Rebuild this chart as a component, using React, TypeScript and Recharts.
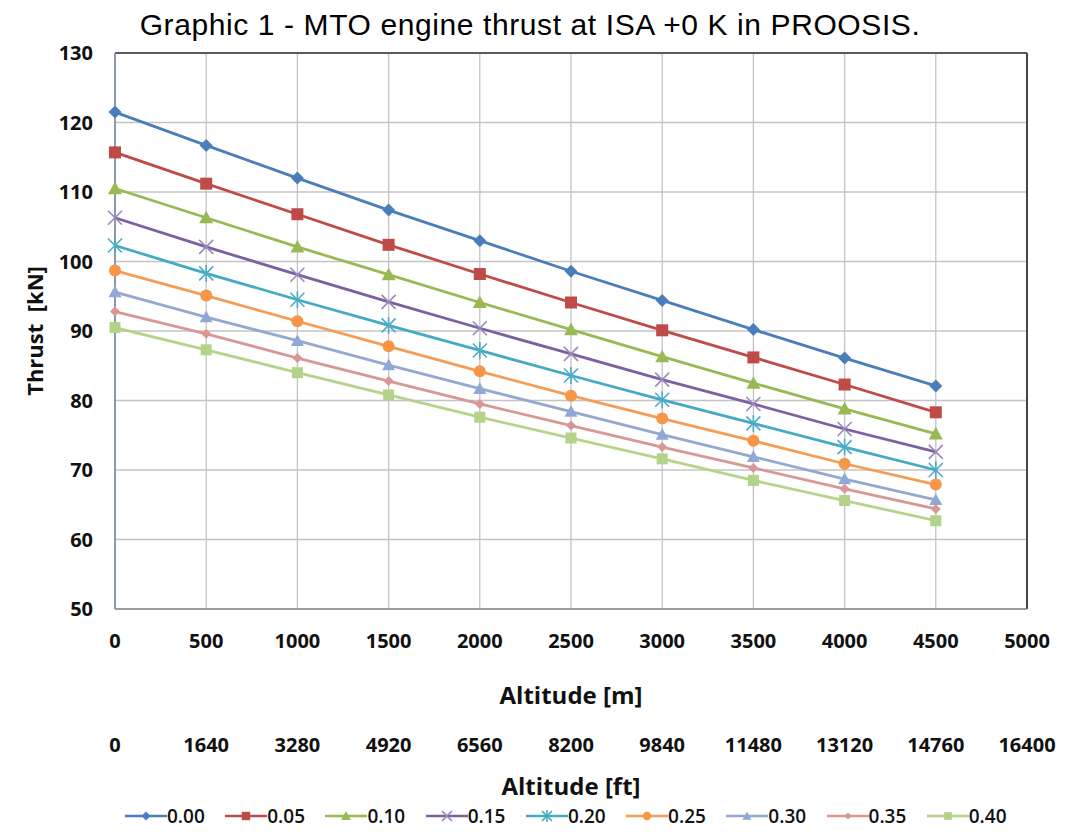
import React from 'react';
import { LineChart, Line, XAxis, YAxis, CartesianGrid, Legend, ReferenceLine, Label } from 'recharts';

// altitude stations (m) and axis ticks
const altitudeM = [0, 500, 1000, 1500, 2000, 2500, 3000, 3500, 4000, 4500];
const altitudeTicksM = [0, 500, 1000, 1500, 2000, 2500, 3000, 3500, 4000, 4500, 5000];
const altitudeTicksFt = [0, 1640, 3280, 4920, 6560, 8200, 9840, 11480, 13120, 14760, 16400];
const thrustTicks = [50, 60, 70, 80, 90, 100, 110, 120, 130];

// MTO thrust [kN] per Mach number
const thrust000 = [121.5, 116.7, 112.0, 107.4, 103.0, 98.6, 94.4, 90.2, 86.1, 82.1];
const thrust005 = [115.7, 111.2, 106.8, 102.4, 98.2, 94.1, 90.1, 86.2, 82.3, 78.3];
const thrust010 = [110.5, 106.3, 102.1, 98.1, 94.1, 90.2, 86.3, 82.5, 78.8, 75.2];
const thrust015 = [106.3, 102.1, 98.1, 94.2, 90.4, 86.7, 83.0, 79.5, 75.9, 72.6];
const thrust020 = [102.3, 98.3, 94.5, 90.8, 87.2, 83.6, 80.1, 76.7, 73.3, 70.0];
const thrust025 = [98.7, 95.1, 91.4, 87.8, 84.2, 80.7, 77.4, 74.2, 70.9, 67.9];
const thrust030 = [95.6, 92.0, 88.6, 85.1, 81.7, 78.4, 75.1, 71.9, 68.7, 65.7];
const thrust035 = [92.8, 89.6, 86.1, 82.8, 79.5, 76.4, 73.3, 70.3, 67.3, 64.4];
const thrust040 = [90.5, 87.3, 84.0, 80.8, 77.6, 74.6, 71.6, 68.5, 65.6, 62.7];

type Shape = 'diamond' | 'square' | 'triangle' | 'x' | 'star' | 'circle';

interface SeriesDef {
  key: string;
  name: string;
  values: number[];
  color: string;
  markerColor: string;
  shape: Shape;
  size: number;
}

const series: SeriesDef[] = [
  { key: 'm000', name: '0.00', values: thrust000, color: '#4A7EBB', markerColor: '#4A7EBB', shape: 'diamond', size: 6.5 },
  { key: 'm005', name: '0.05', values: thrust005, color: '#BE4B48', markerColor: '#BE4B48', shape: 'square', size: 6 },
  { key: 'm010', name: '0.10', values: thrust010, color: '#98B954', markerColor: '#98B954', shape: 'triangle', size: 7 },
  { key: 'm015', name: '0.15', values: thrust015, color: '#7D60A0', markerColor: '#9B87C0', shape: 'x', size: 7 },
  { key: 'm020', name: '0.20', values: thrust020, color: '#46AAC5', markerColor: '#4BACC6', shape: 'star', size: 7 },
  { key: 'm025', name: '0.25', values: thrust025, color: '#F59D56', markerColor: '#F79646', shape: 'circle', size: 6 },
  { key: 'm030', name: '0.30', values: thrust030, color: '#93A9D0', markerColor: '#8FA8D6', shape: 'triangle', size: 6.5 },
  { key: 'm035', name: '0.35', values: thrust035, color: '#D89896', markerColor: '#D99694', shape: 'diamond', size: 5 },
  { key: 'm040', name: '0.40', values: thrust040, color: '#B7D38A', markerColor: '#B3D28A', shape: 'square', size: 5.5 },
];

const rows = altitudeM.map((alt, i) => {
  const row: Record<string, number> = { alt };
  series.forEach(s => { row[s.key] = s.values[i]; });
  return row;
});

// the feet axis shares the metre scale, each metre tick relabelled in feet
const toFeetLabel = (v: number) => {
  const i = altitudeTicksM.indexOf(v);
  return i >= 0 ? String(altitudeTicksFt[i]) : '';
};

const Marker = ({ cx, cy, shape, color, size }: { cx: number; cy: number; shape: Shape; color: string; size: number }) => {
  const s = size;
  switch (shape) {
    case 'diamond':
      return <path d={`M${cx},${cy - s} L${cx + s},${cy} L${cx},${cy + s} L${cx - s},${cy} Z`} fill={color} />;
    case 'square':
      return <rect x={cx - s} y={cy - s} width={s * 2} height={s * 2} fill={color} />;
    case 'triangle':
      return <path d={`M${cx},${cy - s} L${cx + s},${cy + s * 0.8} L${cx - s},${cy + s * 0.8} Z`} fill={color} />;
    case 'circle':
      return <circle cx={cx} cy={cy} r={s} fill={color} />;
    case 'x':
      return (
        <g stroke={color} strokeWidth={1.6}>
          <line x1={cx - s} y1={cy - s} x2={cx + s} y2={cy + s} />
          <line x1={cx - s} y1={cy + s} x2={cx + s} y2={cy - s} />
        </g>
      );
    case 'star':
      return (
        <g stroke={color} strokeWidth={1.6}>
          <line x1={cx - s} y1={cy - s} x2={cx + s} y2={cy + s} />
          <line x1={cx - s} y1={cy + s} x2={cx + s} y2={cy - s} />
          <line x1={cx} y1={cy - s * 1.2} x2={cx} y2={cy + s * 1.2} />
        </g>
      );
    default:
      return null;
  }
};

const tickStyle = { fontFamily: '"Open Sans", sans-serif', fontWeight: 700, fontSize: 20, fill: '#111' };
const axisTitleStyle = { fontFamily: '"Open Sans", sans-serif', fontWeight: 700, fontSize: 24, fill: '#111' };

const LegendContent = () => (
  <div style={{ display: 'flex', marginLeft: 117, fontFamily: '"Open Sans", sans-serif', fontWeight: 600, fontSize: 19, color: '#111' }}>
    {series.map(s => (
      <div key={s.key} style={{ width: 102, display: 'flex', alignItems: 'center' }}>
        <svg width={42} height={20}>
          <line x1={0} y1={10} x2={42} y2={10} stroke={s.color} strokeWidth={2.5} />
          <Marker cx={21} cy={10} shape={s.shape} color={s.markerColor} size={s.size * 0.7} />
        </svg>
        <span>{s.name}</span>
      </div>
    ))}
  </div>
);

const ThrustLabel = (props: any) => {
  const vb = props.viewBox || {};
  const cy = vb.y + vb.height / 2;
  return (
    <text x={26} y={cy} transform={`rotate(-90, 26, ${cy})`} textAnchor="middle" dominantBaseline="central" style={{ ...axisTitleStyle, fontSize: 22, whiteSpace: 'pre' }}>
      {'Thrust  [kN]'}
    </text>
  );
};

export default function App() {
  return (
    <div style={{ position: 'relative', width: 1057, height: 824, background: '#fff' }}>
      <div style={{ position: 'absolute', top: 2, left: 0, width: 1044, textAlign: 'center', fontFamily: '"Liberation Sans", Arial, sans-serif', fontSize: 30, letterSpacing: 0.6, lineHeight: '30px', color: '#000' }}>
        Graphic 1 - MTO engine thrust at ISA +0 K in PROOSIS.
      </div>
      <LineChart width={1057} height={824} data={rows} margin={{ top: 45, right: 38, bottom: 9, left: 0 }}>
        <CartesianGrid xAxisId={0} stroke="#C4C4C4" strokeWidth={1.3} />
        <XAxis
          xAxisId={0}
          dataKey="alt"
          type="number"
          domain={[0, 5000]}
          ticks={altitudeTicksM}
          interval={0}
          axisLine={{ stroke: '#8A8A8A', strokeWidth: 1.5 }}
          tickLine={false}
          tickSize={0}
          tickMargin={25}
          tick={tickStyle}
          height={96}
        >
          <Label value="Altitude [m]" position="insideBottom" offset={1} style={axisTitleStyle} />
        </XAxis>
        <XAxis
          xAxisId={1}
          dataKey="alt"
          type="number"
          domain={[0, 5000]}
          ticks={altitudeTicksM}
          tickFormatter={toFeetLabel}
          interval={0}
          axisLine={false}
          tickLine={false}
          tickSize={0}
          tickMargin={33}
          tick={tickStyle}
          height={98}
        >
          <Label value="Altitude [ft]" position="insideBottom" offset={8} style={axisTitleStyle} />
        </XAxis>
        <YAxis
          type="number"
          domain={[50, 130]}
          ticks={thrustTicks}
          interval={0}
          width={107}
          axisLine={{ stroke: '#7382A0', strokeWidth: 1.5 }}
          tickLine={false}
          tickSize={0}
          tickMargin={22}
          tick={tickStyle}
        >
          <Label content={ThrustLabel} />
        </YAxis>
        <ReferenceLine xAxisId={0} y={130} stroke="#333" strokeWidth={1.5} />
        <ReferenceLine xAxisId={0} x={5000} stroke="#444" strokeWidth={2} />
        {series.map(s => (
          <Line
            key={s.key}
            xAxisId={0}
            dataKey={s.key}
            name={s.name}
            stroke={s.color}
            strokeWidth={2.8}
            isAnimationActive={false}
            dot={(p: any) => <Marker key={`${s.key}-${p.index}`} cx={p.cx} cy={p.cy} shape={s.shape} color={s.markerColor} size={s.size} />}
            activeDot={false}
          />
        ))}
        <Legend verticalAlign="bottom" height={20} content={LegendContent} />
      </LineChart>
    </div>
  );
}
